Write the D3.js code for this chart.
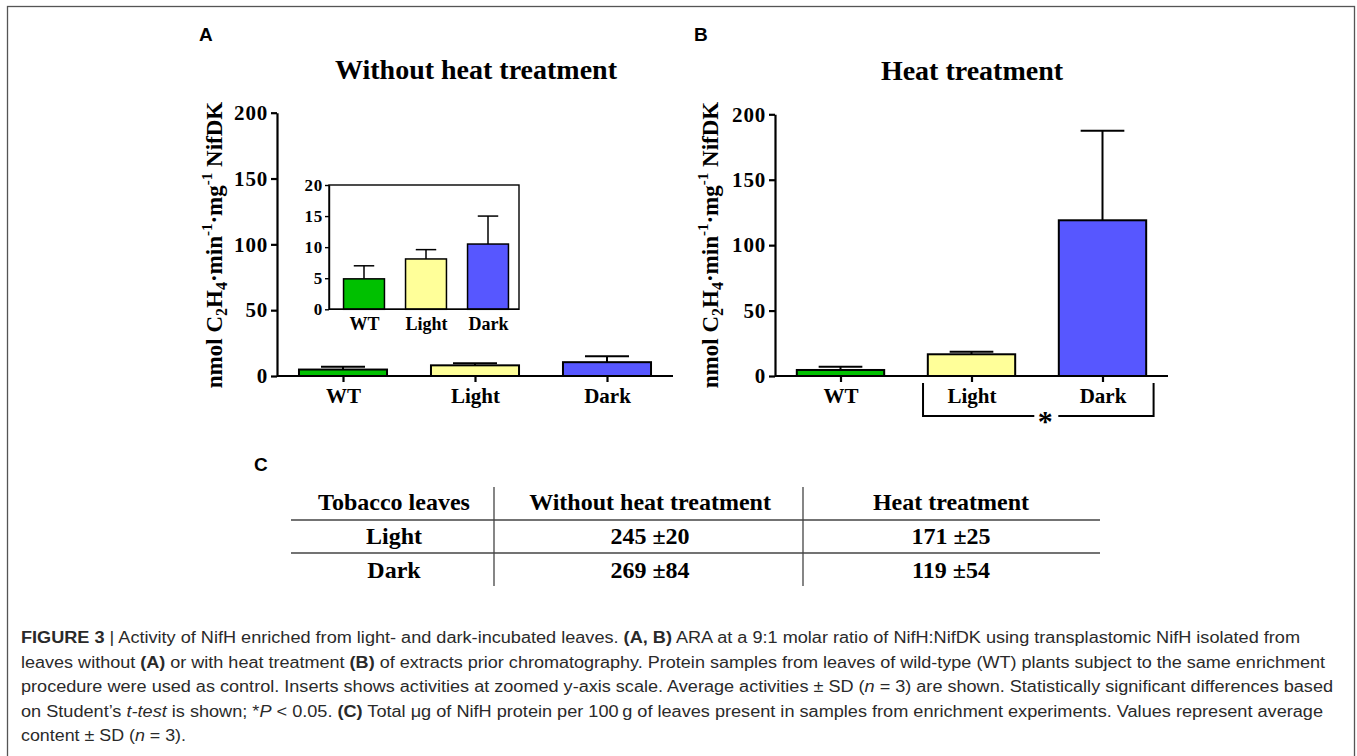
<!DOCTYPE html>
<html>
<head>
<meta charset="utf-8">
<script src="https://cdn.jsdelivr.net/npm/d3@7"></script>
<style>
body { margin: 0; background: #fff; }
</style>
</head>
<body>
<script>
// data
var categories = ["WT", "Light", "Dark"];
var barColors = ["#00c000", "#ffff99", "#5757ff"];
var meanA = [4.9, 8.1, 10.5];
var sdA = [2.1, 1.5, 4.5];
var meanB = [4.6, 16.6, 119];
var sdB = [2.5, 2.0, 68.5];
var yTicks = [0, 50, 100, 150, 200];
var insetTicks = [0, 5, 10, 15, 20];
var tableHead = ["Tobacco leaves", "Without heat treatment", "Heat treatment"];
var tableRows = [["Light", "245 \u00b120", "171 \u00b125"],
                 ["Dark", "269 \u00b184", "119 \u00b154"]];

var w = 1357, h = 756;
var serif = "'Liberation Serif','Times New Roman',serif";
var sans = "'Liberation Sans',Arial,Helvetica,sans-serif";

var svg = d3.select("body").append("svg")
  .attr("width", w)
  .attr("height", h)
  .style("display", "block");

// outer frame
svg.append("rect")
  .attr("x", 7.5).attr("y", 6.5)
  .attr("width", 1347).attr("height", 780)
  .attr("fill", "none").attr("stroke", "#555").attr("stroke-width", 1.3);

function panel(o) {
  var g = svg.append("g");
  var y = d3.scaleLinear().domain([0, o.max]).range([o.bottom, o.top]);
  var x = d3.scalePoint().domain(categories).range([o.xl, o.xr]).padding(0.5);
  var bw = x.step() * o.barFrac;

  // error bars (upper only), drawn under the bar outline
  var eb = g.selectAll("g.err").data(o.means).join("g");
  eb.append("line")
    .attr("x1", function(d, i) { return x(categories[i]); })
    .attr("x2", function(d, i) { return x(categories[i]); })
    .attr("y1", function(d) { return y(d); })
    .attr("y2", function(d, i) { return y(d + o.sds[i]); })
    .attr("stroke", "#000").attr("stroke-width", o.ew);
  eb.append("line")
    .attr("x1", function(d, i) { return x(categories[i]) - bw / 4; })
    .attr("x2", function(d, i) { return x(categories[i]) + bw / 4; })
    .attr("y1", function(d, i) { return y(d + o.sds[i]); })
    .attr("y2", function(d, i) { return y(d + o.sds[i]); })
    .attr("stroke", "#000").attr("stroke-width", o.ew);

  g.selectAll("rect.bar").data(o.means).join("rect")
    .attr("class", "bar")
    .attr("x", function(d, i) { return x(categories[i]) - bw / 2; })
    .attr("y", function(d) { return y(d); })
    .attr("width", bw)
    .attr("height", function(d) { return y(0) - y(d); })
    .attr("fill", function(d, i) { return barColors[i]; })
    .attr("stroke", "#000").attr("stroke-width", o.sw);

  if (o.box) {
    g.append("rect")
      .attr("x", o.yx).attr("y", o.top)
      .attr("width", o.box - o.yx).attr("height", o.bottom - o.top)
      .attr("fill", "none").attr("stroke", "#000").attr("stroke-width", o.aw);
  }

  var ay = g.append("g")
    .attr("transform", "translate(" + o.yx + ",0)")
    .call(d3.axisLeft(y).tickValues(o.ticks).tickSize(o.tick).tickSizeOuter(0).tickPadding(o.pad));
  ay.select(".domain").attr("stroke-width", o.aw);
  ay.selectAll(".tick line").attr("stroke-width", o.aw);
  ay.selectAll("text")
    .attr("fill", "#000")
    .style("font-family", serif).style("font-weight", "bold")
    .style("font-size", o.tickFont + "px").style("letter-spacing", o.ls + "px");

  var ax = g.append("g")
    .attr("transform", "translate(0," + o.bottom + ")")
    .call(d3.axisBottom(x).tickSize(o.xtick).tickSizeOuter(0).tickPadding(o.xpad));
  ax.select(".domain").attr("stroke-width", o.aw).attr("d", "M" + o.yx + ",0H" + (o.box || o.xr));
  ax.selectAll(".tick line").attr("stroke-width", o.aw);
  ax.selectAll("text")
    .attr("fill", "#000")
    .style("font-family", serif).style("font-weight", "bold")
    .style("font-size", o.catFont + "px");
  return x;
}

function yLabel(cx, cy) {
  var t = svg.append("text")
    .attr("transform", "translate(" + cx + "," + cy + ") rotate(-90)")
    .attr("text-anchor", "middle")
    .style("font-family", serif).style("font-weight", "bold")
    .style("font-size", "23px");
  var parts = [["nmol C", 0, 23], ["2", 5, 16], ["H", -5, 23], ["4", 5, 16],
               ["\u00b7min", -5, 23], ["-1", -10, 15], ["\u00b7mg", 10, 23], ["-1", -10, 15], [" NifDK", 10, 23]];
  parts.forEach(function(p) {
    t.append("tspan").attr("dy", p[1]).style("font-size", p[2] + "px").text(p[0]);
  });
}

function title(txt, cx, by) {
  svg.append("text").attr("x", cx).attr("y", by).attr("text-anchor", "middle")
    .style("font-family", serif).style("font-weight", "bold").style("font-size", "28px")
    .text(txt);
}

function letter(txt, lx, by) {
  svg.append("text").attr("x", lx).attr("y", by)
    .style("font-family", sans).style("font-weight", "bold").style("font-size", "19px")
    .text(txt);
}

// panel A
letter("A", 199, 41);
title("Without heat treatment", 476, 79);
yLabel(222, 245);
panel({ means: meanA, sds: sdA, max: 200, ticks: yTicks, top: 112.7, bottom: 376,
  xl: 277, xr: 673, yx: 277, barFrac: 0.667, sw: 2, ew: 2, aw: 2.2,
  tick: 6, pad: 3, tickFont: 21, ls: 0.8, xtick: 6, xpad: 6, catFont: 21 });
// inset
panel({ means: meanA, sds: sdA, max: 20, ticks: insetTicks, top: 185, bottom: 309.3,
  xl: 333, xr: 519, yx: 329, box: 519, barFrac: 0.66, sw: 1.5, ew: 1.5, aw: 1.4,
  tick: 4, pad: 2, tickFont: 17, ls: 0.8, xtick: 0, xpad: 7.5, catFont: 18 });

// panel B
letter("B", 694, 41);
title("Heat treatment", 972, 80);
yLabel(718, 245);
var xB = panel({ means: meanB, sds: sdB, max: 200, ticks: yTicks, top: 114.3, bottom: 376,
  xl: 775, xr: 1168, yx: 775, barFrac: 0.667, sw: 2, ew: 2, aw: 2.2,
  tick: 6, pad: 3, tickFont: 21, ls: 0.8, xtick: 6, xpad: 6, catFont: 21 });

// significance bracket Light vs Dark
var bl = xB("Light") - xB.step() * 0.37;
var br = xB("Dark") + xB.step() * 0.39;
var starX = (bl + br) / 2 + 7;
svg.append("path")
  .attr("d", "M" + bl + ",383V416H" + (starX - 11) + "M" + (starX + 13) + ",416H" + br + "V383")
  .attr("fill", "none").attr("stroke", "#000").attr("stroke-width", 2);
svg.append("text").attr("x", starX).attr("y", 431).attr("text-anchor", "middle")
  .style("font-family", serif).style("font-weight", "bold").style("font-size", "30px")
  .text("*");

// panel C table
letter("C", 254, 471);
var colX = d3.scaleOrdinal().domain([0, 1, 2]).range([394, 650, 951]);
var rowY = d3.scaleOrdinal().domain([0, 1, 2]).range([510, 544, 578]);
var tbl = svg.append("g")
  .style("font-family", serif).style("font-weight", "bold").style("font-size", "24px");
[tableHead].concat(tableRows).forEach(function(row, r) {
  row.forEach(function(cell, c) {
    tbl.append("text").attr("x", colX(c)).attr("y", rowY(r))
      .attr("text-anchor", "middle").text(cell);
  });
});
[520, 553].forEach(function(yy) {
  tbl.append("line").attr("x1", 291).attr("x2", 1100).attr("y1", yy).attr("y2", yy)
    .attr("stroke", "#444").attr("stroke-width", 1.3);
});
[494, 803].forEach(function(xx) {
  tbl.append("line").attr("x1", xx).attr("x2", xx).attr("y1", 487).attr("y2", 586)
    .attr("stroke", "#444").attr("stroke-width", 1.3);
});

// caption
var capLines = [
  [["FIGURE 3", "b"], [" | Activity of NifH enriched from light- and dark-incubated leaves. ", ""], ["(A, B)", "b"],
   [" ARA at a 9:1 molar ratio of NifH:NifDK using transplastomic NifH isolated from", ""]],
  [["leaves without ", ""], ["(A)", "b"], [" or with heat treatment ", ""], ["(B)", "b"],
   [" of extracts prior chromatography. Protein samples from leaves of wild-type (WT) plants subject to the same enrichment", ""]],
  [["procedure were used as control. Inserts shows activities at zoomed y-axis scale. Average activities \u00b1 SD (", ""], ["n", "i"],
   [" = 3) are shown. Statistically significant differences based", ""]],
  [["on Student\u2019s ", ""], ["t-test", "i"], [" is shown; *", ""], ["P", "i"], [" < 0.05. ", ""], ["(C)", "b"],
   [" Total \u03bcg of NifH protein per 100\u2009g of leaves present in samples from enrichment experiments. Values represent average", ""]],
  [["content \u00b1 SD (", ""], ["n", "i"], [" = 3).", ""]]
];
var capEnds = [1300, 1325, 1333, 1323, 186];
var capBase = [643, 667.5, 692, 716.5, 741];
capLines.forEach(function(line, i) {
  var t = svg.append("text").attr("x", 21).attr("y", capBase[i])
    .attr("fill", "#2a2a2a")
    .style("font-family", sans).style("font-size", "16px");
  line.forEach(function(seg) {
    t.append("tspan")
      .style("font-weight", seg[1] == "b" ? "bold" : "normal")
      .style("font-style", seg[1] == "i" ? "italic" : "normal")
      .text(seg[0]);
  });
  t.attr("textLength", capEnds[i] - 21).attr("lengthAdjust", "spacingAndGlyphs");
});
</script>
</body>
</html>
